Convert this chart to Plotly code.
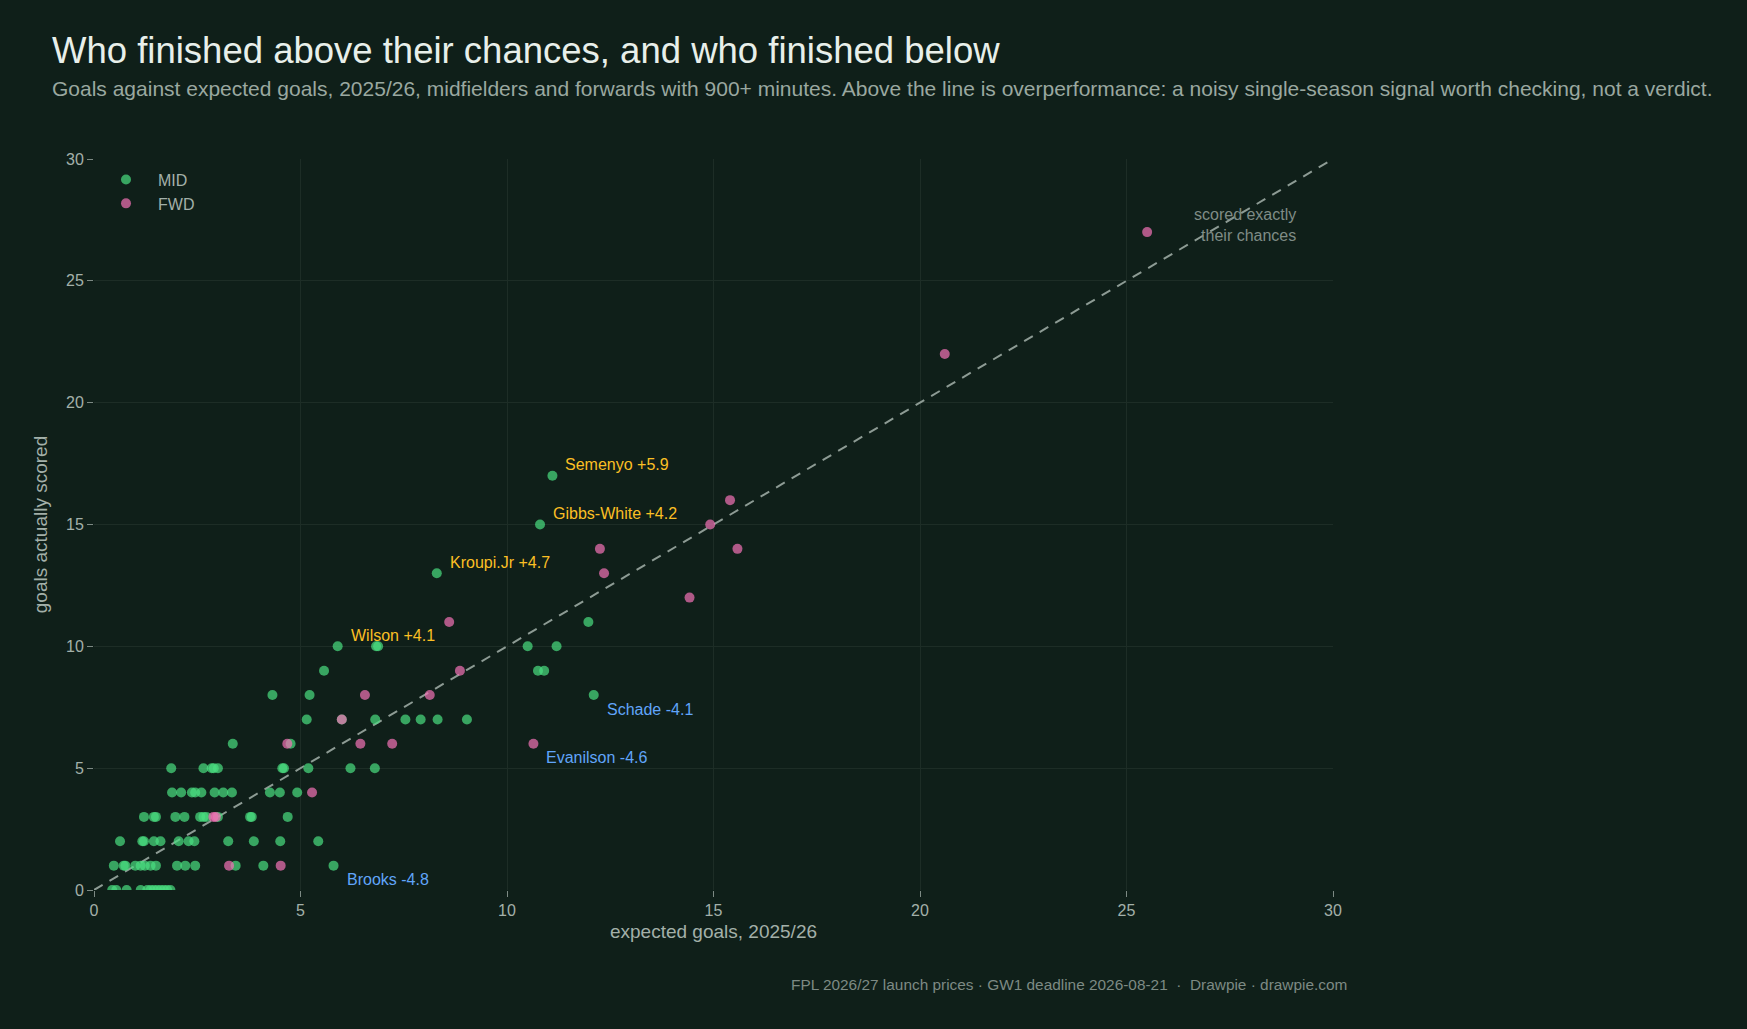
import plotly.graph_objects as go

# ---------------- data ----------------
mid_xg = [0.44, 0.54, 0.79, 1.13, 1.29, 1.37, 1.45, 1.53, 1.61, 1.69, 1.77, 1.85,
          0.48, 0.72, 0.76, 1.0, 1.13, 1.23, 1.37, 1.5, 2.01, 2.21, 2.45, 3.43, 4.1, 5.8,
          0.63, 1.17, 1.21, 1.45, 1.61, 2.05, 2.29, 2.43, 3.25, 3.87, 4.51, 5.43,
          1.21, 1.45, 1.5, 1.97, 2.19, 2.57, 2.65, 2.72, 3.0, 3.78, 3.82, 4.69,
          1.89, 2.11, 2.37, 2.45, 2.6, 2.92, 3.13, 3.34, 4.26, 4.5, 4.92,
          1.87, 2.65, 2.85, 2.9, 3.0, 4.56, 4.6, 5.19, 6.21, 6.8,
          3.36, 4.76,
          5.15, 6.0, 6.81, 7.54, 7.91, 8.32, 9.03,
          4.32, 5.22, 12.1,
          5.57, 10.75, 10.9,
          5.9, 6.83, 6.88, 10.5, 11.2,
          11.97,
          8.3,
          10.8,
          11.1]
mid_goals = [0] * 12 + [1] * 14 + [2] * 12 + [3] * 12 + [4] * 11 + [5] * 10 + [6] * 2 + \
            [7] * 7 + [8] * 3 + [9] * 3 + [10] * 5 + [11] + [13] + [15] + [17]

fwd_xg = [3.27, 4.52, 2.89, 2.95, 5.28, 4.68, 6.45, 7.22, 10.64, 6.0, 6.56, 8.13, 8.86,
          8.6, 14.42, 12.35, 12.25, 15.58, 14.92, 15.4, 20.6, 25.5]
fwd_goals = [1, 1, 3, 3, 4, 6, 6, 6, 6, 7, 8, 8, 9, 11, 12, 13, 14, 14, 15, 16, 22, 27]

over_names = ["Semenyo", "Gibbs-White", "Kroupi.Jr", "Wilson"]
over_xg = [11.1, 10.8, 8.3, 5.9]
over_goals = [17, 15, 13, 10]

under_names = ["Schade", "Evanilson", "Brooks"]
under_xg = [12.1, 10.64, 5.8]
under_goals = [8, 6, 1]

axis_ticks = [0, 5, 10, 15, 20, 25, 30]

# ---------------- style ----------------
BG = "#0f1f19"
FONT = "Liberation Sans, Arial, Helvetica, sans-serif"
MUTED = "#a3b0a9"
GRID = "#1d2d26"
W, H = 1747, 1029
L, R, T, B = 93.5, 414, 158.5, 139
PW, PH = W - L - R, H - T - B


def px_x(px):
    return (px - L) / PW


def px_y(py):
    return (H - B - py) / PH


fig = go.Figure()

fig.add_trace(go.Scatter(
    x=[axis_ticks[0], axis_ticks[-1]], y=[axis_ticks[0], axis_ticks[-1]],
    mode="lines", line=dict(color="#8d9b94", width=2, dash="10px,8px"),
    showlegend=False, hoverinfo="skip"))

fig.add_trace(go.Scatter(
    x=mid_xg, y=mid_goals, mode="markers", name="MID",
    marker=dict(color="#4ade80", size=10, opacity=0.7, line=dict(width=0))))

fig.add_trace(go.Scatter(
    x=fwd_xg, y=fwd_goals, mode="markers", name="FWD",
    marker=dict(color="#f472b6", size=10, opacity=0.7, line=dict(width=0))))

annotations = []
for n, xv, gv in zip(over_names, over_xg, over_goals):
    annotations.append(dict(x=xv, y=gv, xref="x", yref="y",
                            text=f"{n} +{gv - xv:.1f}", showarrow=False,
                            xanchor="left", yanchor="middle", xshift=11, yshift=11,
                            font=dict(family=FONT, size=16, color="#fbbf24")))
for n, xv, gv in zip(under_names, under_xg, under_goals):
    annotations.append(dict(x=xv, y=gv, xref="x", yref="y",
                            text=f"{n} {gv - xv:.1f}", showarrow=False,
                            xanchor="left", yanchor="middle", xshift=11, yshift=-14,
                            font=dict(family=FONT, size=16, color="#60a5fa")))

annotations.append(dict(x=29.15, y=27.3, xref="x", yref="y",
                        text="scored exactly<br>their chances", showarrow=False,
                        xanchor="right", yanchor="middle", align="right",
                        font=dict(family=FONT, size=16, color="#7f8c86")))

annotations.append(dict(x=px_x(49), y=px_y(88), xref="paper", yref="paper",
                        text="Goals against expected goals, 2025/26, midfielders and forwards with 900+ minutes. "
                             "Above the line is overperformance: a noisy single-season signal worth checking, not a verdict.",
                        showarrow=False, xanchor="left", yanchor="middle",
                        font=dict(family=FONT, size=21, color="#9aa8a0")))

annotations.append(dict(x=px_x(1349), y=px_y(985), xref="paper", yref="paper",
                        text="FPL 2026/27 launch prices · GW1 deadline 2026-08-21  ·  Drawpie · drawpie.com",
                        showarrow=False, xanchor="right", yanchor="middle",
                        font=dict(family=FONT, size=15.4, color="#7d8a84")))

fig.update_layout(
    width=W, height=H,
    paper_bgcolor=BG, plot_bgcolor=BG,
    margin=dict(l=L, r=R, t=T, b=B),
    font=dict(family=FONT, color=MUTED, size=16),
    title=dict(text="Who finished above their chances, and who finished below",
               x=52 / W, xanchor="left", xref="container",
               y=1 - 50 / H, yanchor="middle", yref="container",
               font=dict(family=FONT, size=36.5, color="#e8efea")),
    showlegend=True,
    legend=dict(x=0.0, y=0.995, xanchor="left", yanchor="top",
                bgcolor="rgba(0,0,0,0)", font=dict(size=16, color=MUTED),
                itemwidth=54),
    annotations=annotations,
    xaxis=dict(range=[0, 30], tickvals=axis_ticks, showgrid=True, gridcolor=GRID,
               zeroline=False, showline=False, ticks="outside", ticklen=6,
               tickcolor="#7d8a84", tickfont=dict(size=16, color=MUTED),
               title=dict(text="expected goals, 2025/26", standoff=6,
                          font=dict(size=19, color=MUTED))),
    yaxis=dict(range=[0, 30], tickvals=axis_ticks, showgrid=True, gridcolor=GRID,
               zeroline=False, showline=False, ticks="outside", ticklen=6,
               tickcolor="#7d8a84", tickfont=dict(size=16, color=MUTED),
               title=dict(text="goals actually scored", standoff=13,
                          font=dict(size=19, color=MUTED))),
)

fig.write_html("out.html")
